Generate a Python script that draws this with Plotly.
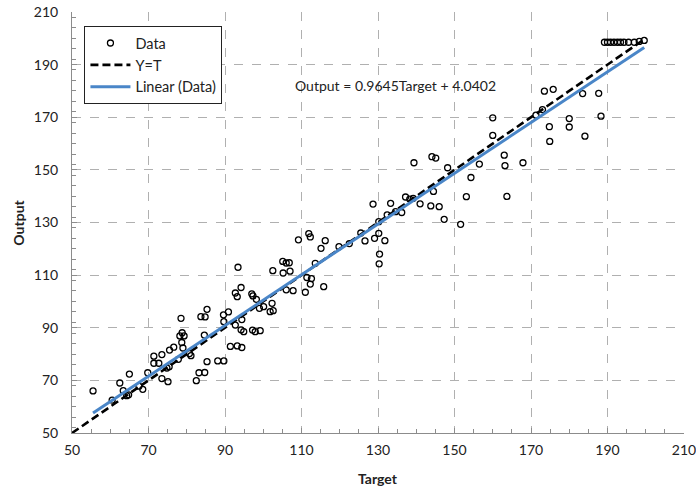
import plotly.graph_objects as go

# ---- data ----
target = [55.5, 60.5, 62.5, 63.4, 64.3, 64.8, 65.0, 67.5, 68.5, 69.8,
          71.4, 71.4, 72.7, 73.5, 73.5, 75.1, 74.8, 75.4, 75.5, 76.6,
          77.8, 78.5, 78.2, 78.8, 79.3, 78.7, 79.0, 80.7, 81.1,
          82.5, 83.2, 84.7, 85.3, 88.1, 89.7, 83.7, 84.8, 85.3, 84.6,
          89.6, 90.9, 89.7, 91.4, 93.2, 94.4, 92.7, 94.4, 94.2, 94.9,
          97.2, 97.9, 99.2, 93.4, 92.7, 93.2, 94.2, 97.0, 97.3, 98.2,
          99.0, 100.1, 101.8, 102.6, 102.3,
          102.5, 105.1, 106.0, 106.8, 105.2, 107.0, 106.0, 107.8, 111.0, 111.4,
          112.6, 112.3, 113.6, 115.8, 109.2, 111.9, 112.3, 116.2, 115.1, 119.8,
          122.5, 125.5, 126.6, 129.1, 128.7, 130.2, 131.8, 130.4, 130.3, 130.2,
          133.3, 132.4, 134.6, 136.2, 137.2, 138.3, 139.2, 139.4, 144.1, 145.1,
          141.0, 143.8, 146.0, 144.5, 147.3, 148.2, 151.6, 153.1, 154.3, 156.5,
          160.0, 160.0, 163.0, 163.2, 163.7, 167.9,
          171.3, 173.0, 173.5, 175.8, 174.8, 174.9, 180.0, 180.0, 183.5, 184.1,
          187.7, 188.3,
          189.2, 190.0, 190.8, 191.7, 192.6, 193.4, 194.3, 195.5, 197.0, 198.3, 199.6]
output = [66.0, 62.5, 69.0, 66.1, 64.2, 64.5, 72.4, 67.8, 66.6, 72.9,
          79.2, 76.5, 76.5, 79.8, 70.7, 69.5, 74.7, 75.2, 81.5, 82.6,
          78.0, 93.6, 86.9, 88.1, 86.9, 84.4, 82.3, 80.2, 79.4,
          69.9, 72.9, 73.0, 77.1, 77.4, 77.4, 94.2, 94.1, 97.0, 87.2,
          94.9, 96.0, 92.3, 82.9, 83.1, 82.5, 91.0, 93.1, 89.2, 88.5,
          89.1, 88.5, 88.9, 113.0, 103.2, 101.8, 105.3, 102.9, 102.1, 100.8,
          97.4, 98.0, 96.1, 96.5, 99.3,
          111.7, 115.2, 114.6, 114.7, 110.8, 111.5, 104.4, 104.1, 103.5, 109.1,
          108.7, 106.6, 114.5, 105.6, 123.4, 125.8, 124.5, 123.1, 120.2, 120.8,
          122.0, 126.0, 123.0, 124.0, 137.0, 125.9, 123.1, 118.0, 114.3, 130.3,
          137.3, 132.9, 134.1, 133.8, 139.7, 138.9, 139.2, 152.7, 155.0, 154.5,
          137.1, 136.3, 136.0, 141.8, 131.2, 150.8, 129.3, 139.8, 147.1, 152.2,
          169.8, 163.1, 155.6, 151.6, 139.9, 152.7,
          170.8, 172.9, 179.9, 180.6, 166.4, 160.8, 169.5, 166.3, 179.0, 162.8,
          179.1, 170.4,
          198.5, 198.5, 198.5, 198.5, 198.5, 198.5, 198.5, 198.5, 198.5, 198.8, 199.2]

yt_line = [50, 200]
fit_slope = 0.9645
fit_intercept = 4.0402
x_ticks = [50, 70, 90, 110, 130, 150, 170, 190, 210]
y_ticks = [50, 70, 90, 110, 130, 150, 170, 190, 210]

fit_x = [min(target), max(target)]
fit_y = [fit_slope * v + fit_intercept for v in fit_x]

FONT = "Lato, 'Open Sans', sans-serif"
TXT = "#222"

fig = go.Figure()
fig.add_trace(go.Scatter(
    x=target, y=output, mode="markers", name="Data",
    marker=dict(symbol="circle-open", size=6, color="black",
                line=dict(width=1.3, color="black")),
))
fig.add_trace(go.Scatter(
    x=yt_line, y=yt_line, mode="lines", name="Y=T",
    line=dict(color="black", width=2.6, dash="8px,4px"),
))
fig.add_trace(go.Scatter(
    x=fit_x, y=fit_y, mode="lines", name="Linear (Data)",
    line=dict(color="#4a86c8", width=3),
))

fig.add_annotation(
    x=134.6, y=182, xref="x", yref="y", showarrow=False,
    text="Output = 0.9645Target + 4.0402",
    font=dict(family=FONT, size=14, color=TXT),
)
# axis titles
fig.add_annotation(
    x=-0.088, y=0.5, xref="paper", yref="paper", showarrow=False,
    xanchor="center", yanchor="middle",
    text="<b>Output</b>", textangle=-90,
    font=dict(family=FONT, size=14, color=TXT),
)
fig.add_annotation(
    x=0.5, y=-0.107, xref="paper", yref="paper", showarrow=False,
    xanchor="center", yanchor="middle",
    text="<b>Target</b>",
    font=dict(family=FONT, size=14, color=TXT),
)

axis_common = dict(
    showgrid=True, gridcolor="#b0b0b0", griddash="dash", gridwidth=1,
    showline=True, linecolor="#8c8c8c", linewidth=1,
    zeroline=False, ticks="inside", ticklen=5, tickcolor="#8c8c8c",
    tickfont=dict(family=FONT, size=14, color=TXT),
    automargin=False, ticklabeloverflow="allow",
)

fig.update_xaxes(
    range=[50, 210], tickvals=x_ticks, ticktext=[str(v) for v in x_ticks],
    minor=dict(dtick=5, ticks="inside", ticklen=4, tickcolor="#8c8c8c", showgrid=False),
    ticklabelstandoff=4,
    **axis_common,
)
fig.update_yaxes(
    range=[50, 210], tickvals=y_ticks, ticktext=[str(v) for v in y_ticks],
    minor=dict(dtick=4, ticks="inside", ticklen=4, tickcolor="#8c8c8c", showgrid=False),
    ticklabelstandoff=10,
    **axis_common,
)

fig.update_layout(
    width=696, height=492,
    margin=dict(l=72, r=12, t=12, b=59, autoexpand=False),
    paper_bgcolor="white", plot_bgcolor="white",
    showlegend=True,
    legend=dict(
        x=0.02, y=0.967, xanchor="left", yanchor="top",
        bgcolor="white", bordercolor="#222", borderwidth=1.2,
        font=dict(family=FONT, size=14.5, color=TXT),
        itemwidth=40, tracegroupgap=2,
    ),
)

# remove the browser's default 8px body margin so the figure fills the window
fig.write_html("out.html",
               config={"displayModeBar": False},
               post_script="document.body.style.margin='0';document.body.style.overflow='hidden';")
